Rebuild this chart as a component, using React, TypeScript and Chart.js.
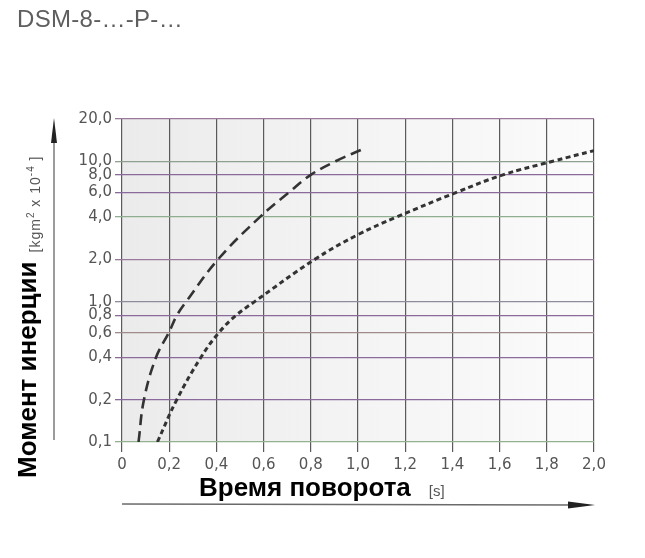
import React, { useEffect, useRef } from "react";
import { Chart, registerables } from "chart.js";

Chart.register(...registerables);

const TITLE = "DSM-8-…-P-…";
const X_TITLE = "Время поворота";
const X_UNIT = "[s]";
const Y_TITLE = "Момент инерции";

const X_TICKS = [0, 0.2, 0.4, 0.6, 0.8, 1.0, 1.2, 1.4, 1.6, 1.8, 2.0];
const Y_TICKS = [0.1, 0.2, 0.4, 0.6, 0.8, 1, 2, 4, 6, 8, 10, 20];

// long-dash curve
const LONG_DASH_TIME = [0.07, 0.093, 0.144, 0.198, 0.233, 0.272, 0.407, 0.584, 0.707, 0.8, 0.905, 1.02];
const LONG_DASH_INERTIA = [0.1, 0.2, 0.4, 0.6, 0.8, 1.0, 2.0, 4.0, 6.0, 8.0, 10.0, 12.2];

// short-dash curve
const SHORT_DASH_TIME = [0.15, 0.232, 0.334, 0.41, 0.484, 0.562, 0.817, 1.0, 1.163, 1.417, 1.614, 1.825, 2.0];
const SHORT_DASH_INERTIA = [0.1, 0.2, 0.4, 0.6, 0.8, 1.0, 2.0, 3.0, 4.0, 6.0, 8.0, 10.0, 11.9];

const H_GRID_COLORS: Record<string, string> = {
  "0.1": "#93b08f",
  "0.2": "#8a6a9c",
  "0.4": "#8c6a9a",
  "0.6": "#a08a8a",
  "0.8": "#8a6a9c",
  "1": "#8f8a9c",
  "2": "#9a7a9a",
  "4": "#8fae8f",
  "6": "#8a6a9c",
  "8": "#8a6a9c",
  "10": "#8fa08f",
  "20": "#9a7a9a",
};

const fmt = (v: number, isX: boolean) => {
  if (isX && v === 0) return "0";
  return v.toFixed(1).replace(".", ",");
};

const decorPlugin = {
  id: "decor",
  beforeDraw(chart: any) {
    const { ctx, chartArea: a } = chart;
    const g = ctx.createLinearGradient(a.left, 0, a.right, 0);
    g.addColorStop(0, "#ebebeb");
    g.addColorStop(0.5, "#f4f4f4");
    g.addColorStop(1, "#fbfbfb");
    ctx.save();
    ctx.fillStyle = g;
    ctx.fillRect(a.left, a.top, a.right - a.left, a.bottom - a.top);
    ctx.restore();
  },
  afterDraw(chart: any) {
    const { ctx, chartArea: a } = chart;
    ctx.save();
    // x arrow
    const ay = a.bottom + 62;
    ctx.strokeStyle = "#6a6a6a";
    ctx.lineWidth = 1.5;
    ctx.beginPath();
    ctx.moveTo(a.left, ay);
    ctx.lineTo(a.right - 20, ay + 1);
    ctx.stroke();
    ctx.fillStyle = "#222";
    ctx.beginPath();
    ctx.moveTo(a.right - 26, ay - 2.5);
    ctx.lineTo(a.right + 1, ay + 1);
    ctx.lineTo(a.right - 26, ay + 4.5);
    ctx.closePath();
    ctx.fill();
    // y arrow
    const ax = a.left - 68;
    ctx.strokeStyle = "#7a7a7a";
    ctx.beginPath();
    ctx.moveTo(ax, a.bottom - 2);
    ctx.lineTo(ax, a.top + 20);
    ctx.stroke();
    ctx.fillStyle = "#222";
    ctx.beginPath();
    ctx.moveTo(ax - 3, a.top + 24);
    ctx.lineTo(ax, a.top - 1);
    ctx.lineTo(ax + 3, a.top + 24);
    ctx.closePath();
    ctx.fill();
    ctx.restore();
  },
};

export default function App() {
  const ref = useRef<HTMLCanvasElement | null>(null);
  useEffect(() => {
    if (!ref.current) return;
    const longData = LONG_DASH_TIME.map((x, i) => ({ x, y: LONG_DASH_INERTIA[i] }));
    const shortData = SHORT_DASH_TIME.map((x, i) => ({ x, y: SHORT_DASH_INERTIA[i] }));
    const chart = new Chart(ref.current, {
      type: "scatter",
      data: {
        datasets: [
          {
            data: longData,
            showLine: true,
            borderColor: "#333",
            borderWidth: 2.6,
            borderDash: [11, 6],
            pointRadius: 0,
            tension: 0.4,
          },
          {
            data: shortData,
            showLine: true,
            borderColor: "#333",
            borderWidth: 3,
            borderDash: [5, 3.5],
            pointRadius: 0,
            tension: 0.4,
          },
        ],
      },
      options: {
        animation: false,
        responsive: false,
        layout: { padding: { left: 0, right: 51, top: 119, bottom: 86 } },
        plugins: { legend: { display: false }, tooltip: { enabled: false } },
        scales: {
          x: {
            type: "linear",
            min: 0,
            max: 2,
            afterBuildTicks: (s: any) => {
              s.ticks = X_TICKS.map((v) => ({ value: v }));
            },
            afterFit: (s: any) => {
              s.height = 30;
              s.paddingLeft = 0;
              s.paddingRight = 0;
            },
            border: { display: false },
            grid: { color: "#5a5a5a", lineWidth: 1.2, tickLength: 10 },
            ticks: {
              padding: 4,
              maxRotation: 0,
              autoSkip: false,
              color: "#555",
              font: { family: "DejaVu Sans", size: 15 },
              callback: (v: any) => fmt(Number(v), true),
            },
          },
          y: {
            type: "logarithmic",
            min: 0.1,
            max: 20,
            afterBuildTicks: (s: any) => {
              s.ticks = Y_TICKS.map((v) => ({ value: v }));
            },
            afterFit: (s: any) => {
              s.width = 122;
              s.paddingTop = 0;
              s.paddingBottom = 0;
            },
            border: { display: false },
            grid: {
              color: (c: any) => H_GRID_COLORS[String(c.tick?.value)] || "#8a6a9c",
              lineWidth: 1.3,
              tickLength: 7,
            },
            ticks: {
              padding: 3,
              autoSkip: false,
              color: "#555",
              font: { family: "DejaVu Sans", size: 15 },
              callback: (v: any) => fmt(Number(v), false),
            },
          },
        },
      },
      plugins: [decorPlugin],
    } as any);
    return () => chart.destroy();
  }, []);

  return (
    <div style={{ position: "fixed", left: 0, top: 0, width: 645, height: 558, background: "#fff", overflow: "hidden" }}>
      <canvas ref={ref} width={645} height={558} style={{ position: "absolute", left: 0, top: 0, width: 645, height: 558 }} />
      <div
        style={{
          position: "absolute",
          left: 17,
          top: 6,
          fontFamily: "Liberation Sans, Arial, sans-serif",
          fontSize: 24,
          letterSpacing: "0.3px",
          color: "#5e5e5e",
          lineHeight: "26px",
          whiteSpace: "nowrap",
        }}
      >
        {TITLE}
      </div>
      <div
        style={{
          position: "absolute",
          left: 199,
          top: 474,
          fontFamily: "Liberation Sans, Arial, sans-serif",
          whiteSpace: "nowrap",
          lineHeight: "26px",
        }}
      >
        <span style={{ fontSize: 26, fontWeight: 700, color: "#000" }}>{X_TITLE}</span>
        <span style={{ fontSize: 15, color: "#555", marginLeft: 18 }}>{X_UNIT}</span>
      </div>
      <div
        style={{
          position: "absolute",
          left: 14,
          top: 478,
          transformOrigin: "left top",
          transform: "rotate(-90deg)",
          fontFamily: "Liberation Sans, Arial, sans-serif",
          whiteSpace: "nowrap",
          lineHeight: "26px",
        }}
      >
        <span style={{ fontSize: 26, fontWeight: 700, color: "#000" }}>{Y_TITLE}</span>
        <span
          style={{
            fontSize: 14,
            color: "#555",
            marginLeft: 9,
            letterSpacing: "1px",
            position: "relative",
            top: 4,
          }}
        >
          [kgm<sup style={{ fontSize: 10 }}>2</sup> x 10<sup style={{ fontSize: 10 }}>-4</sup> ]
        </span>
      </div>
    </div>
  );
}
